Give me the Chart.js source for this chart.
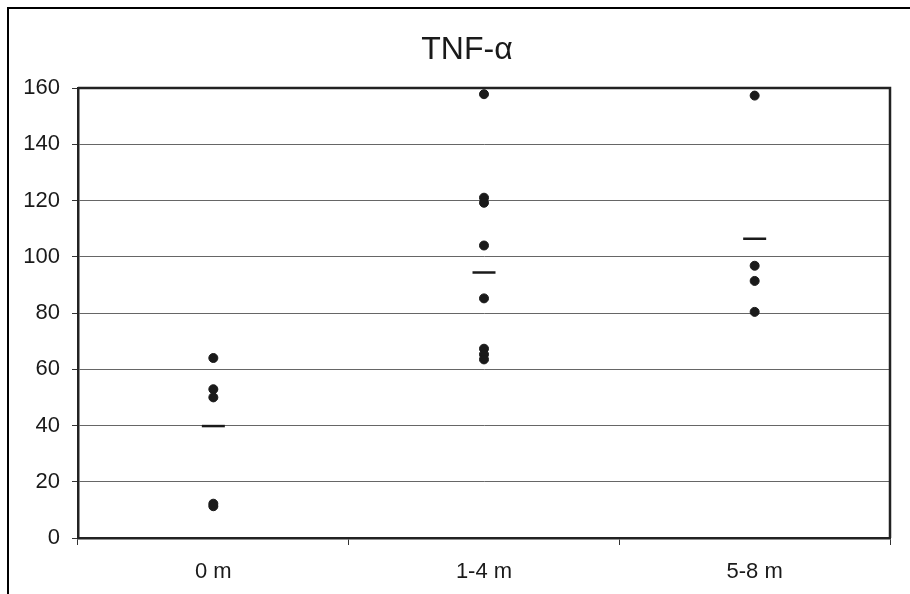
<!DOCTYPE html>
<html>
<head>
<meta charset="utf-8">
<script src="https://cdn.jsdelivr.net/npm/chart.js@4"></script>
<style>
    html, body { margin: 0; padding: 0; background: #fff; }
    #wrap { width: 910px; height: 594px; }
</style>
</head>
<body>
<div id="wrap"><canvas id="myChart" width="910" height="594"></canvas></div>
<script>
// groups on the x axis
const categories = ['0 m', '1-4 m', '5-8 m'];
// individual values
const group0m = [64, 52.9, 50, 12.2, 11.3];
const group14m = [157.8, 121, 119.2, 104, 85.2, 67.3, 65.3, 63.5];
const group58m = [157.3, 96.8, 91.4, 80.4];
// mean bars
const means = [39.8, 94.4, 106.4];
const yTicks = [0, 20, 40, 60, 80, 100, 120, 140, 160];
const titleText = 'TNF-\u03b1';

const ink = '#1a1a1a';
const fontFamily = 'Liberation Sans, Arial, sans-serif';

const points = [];
group0m.forEach(v => points.push({ x: categories[0], y: v }));
group14m.forEach(v => points.push({ x: categories[1], y: v }));
group58m.forEach(v => points.push({ x: categories[2], y: v }));

const meanPoints = means.map((v, i) => ({ x: categories[i], y: v }));

// plot box on top/right, outer frame at top-left, and the title
// (title drawn by hand: it sits a bit left of the plot centre in the original)
const framePlugin = {
    id: 'frames',
    afterDraw(chart) {
        const c = chart.ctx;
        const a = chart.chartArea;
        c.save();
        c.strokeStyle = '#222';
        c.lineWidth = 2.5;
        c.beginPath();
        c.moveTo(a.left, a.top);
        c.lineTo(a.right, a.top);
        c.lineTo(a.right, a.bottom);
        c.stroke();
        c.strokeStyle = '#000';
        c.lineWidth = 2;
        c.beginPath();
        c.moveTo(8, 594);
        c.lineTo(8, 8);
        c.lineTo(910, 8);
        c.stroke();

        c.fillStyle = ink;
        c.font = '32px ' + fontFamily;
        c.textAlign = 'center';
        c.textBaseline = 'alphabetic';
        c.fillText(titleText, 467, 59);
        c.restore();
    }
};

const ctx = document.getElementById('myChart').getContext('2d');
const myChart = new Chart(ctx, { //eslint-disable-line
    type: 'scatter',
    data: {
        labels: categories,
        datasets: [{
            label: 'values',
            data: points,
            backgroundColor: ink,
            borderColor: ink,
            pointRadius: 4.5,
            pointHoverRadius: 4.5
        },
        {
            label: 'mean',
            data: meanPoints,
            pointStyle: 'line',
            pointRadius: 11.5,
            borderColor: ink,
            borderWidth: 2.5
        }]
    },
    plugins: [framePlugin],
    options: {
        responsive: false,
        animation: false,
        events: [],
        layout: { padding: { left: 0, right: 20, top: 88, bottom: 0 } },
        plugins: {
            legend: { display: false },
            tooltip: { enabled: false },
            title: { display: false }
        },
        scales: {
            x: {
                type: 'category',
                labels: categories,
                offset: true,
                grid: {
                    offset: true,
                    drawOnChartArea: false,
                    drawTicks: true,
                    tickLength: 7,
                    color: '#333'
                },
                border: { color: '#222', width: 2.5 },
                ticks: {
                    color: ink,
                    padding: 14,
                    font: { family: fontFamily, size: 22 }
                },
                afterFit(scale) { scale.height = 56; }
            },
            y: {
                min: 0,
                max: 160,
                afterBuildTicks(scale) {
                    scale.ticks = yTicks.map(v => ({ value: v }));
                },
                grid: {
                    color: '#666',
                    lineWidth: 1,
                    tickLength: 6,
                    tickColor: '#333'
                },
                border: { color: '#222', width: 2.5 },
                ticks: {
                    color: ink,
                    padding: 12,
                    font: { family: fontFamily, size: 22 }
                },
                afterFit(scale) { scale.width = 78; }
            }
        }
    }
});
</script>
</body>
</html>
